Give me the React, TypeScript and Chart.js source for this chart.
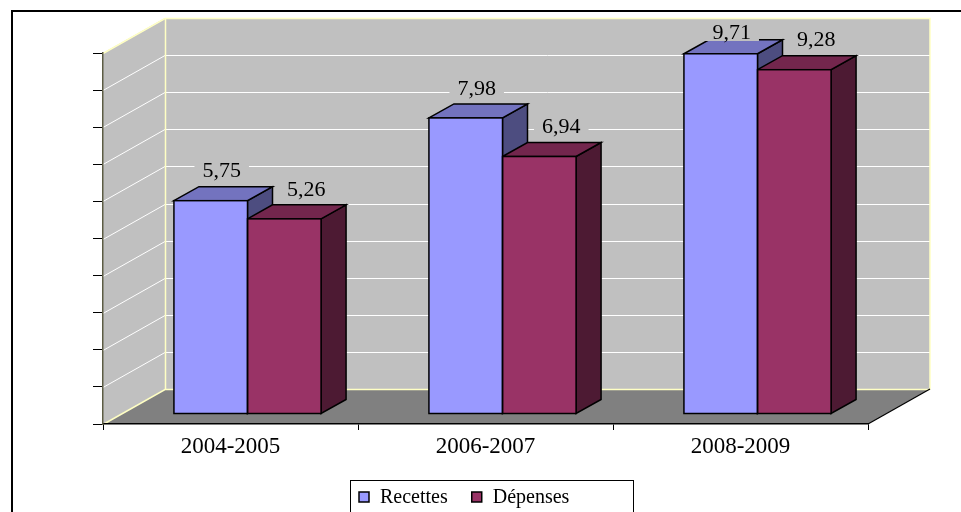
import React, { useEffect, useRef } from 'react';
import { Chart, registerables } from 'chart.js';

Chart.register(...registerables);

const categories = ['2004-2005', '2006-2007', '2008-2009'];
const recettes = [5.75, 7.98, 9.71];
const depenses = [5.26, 6.94, 9.28];
const seriesNames = ['Recettes', 'Dépenses'];
const yMax = 10;
const yStep = 1;

const FRONT = ['#9999FF', '#993366'];
const TOP = ['#7373BF', '#73264D'];
const SIDE = ['#4D4D80', '#4D1A33'];
const WALL = '#C0C0C0';
const FLOOR = '#808080';
const EDGE = '#FFFFC4';
const SERIF = 'Liberation Serif, DejaVu Serif, serif';

const BOX_DX = 62;
const BOX_DY = 35;
const BAR_DX = 17;
const BAR_DY = 10;
const BD_DX = 25;
const BD_DY = 14;
const LABEL_SHIFT = [11, 22];
const LABEL_GAP = 30;

function barRect(el: any) {
  const p = el.getProps(['x', 'y', 'base', 'width'], true);
  return { l: p.x - p.width / 2, r: p.x + p.width / 2, t: Math.min(p.y, p.base), b: Math.max(p.y, p.base), x: p.x };
}

function poly(ctx: CanvasRenderingContext2D, pts: number[][], fill: string | null, stroke: string | null, lw = 1.5) {
  ctx.beginPath();
  ctx.moveTo(pts[0][0], pts[0][1]);
  for (let i = 1; i < pts.length; i++) ctx.lineTo(pts[i][0], pts[i][1]);
  ctx.closePath();
  if (fill) { ctx.fillStyle = fill; ctx.fill(); }
  if (stroke) { ctx.strokeStyle = stroke; ctx.lineWidth = lw; ctx.lineJoin = 'miter'; ctx.stroke(); }
}

function line(ctx: CanvasRenderingContext2D, pts: number[][], color: string, lw = 1) {
  ctx.beginPath();
  ctx.moveTo(pts[0][0], pts[0][1]);
  for (let i = 1; i < pts.length; i++) ctx.lineTo(pts[i][0], pts[i][1]);
  ctx.strokeStyle = color;
  ctx.lineWidth = lw;
  ctx.stroke();
}

const plugin3d = {
  id: 'threeD',
  beforeDraw(chart: any) {
    const { ctx, chartArea: ca } = chart;
    const y = chart.scales.y;
    const L = ca.left, R = ca.right, T = ca.top, B = ca.bottom;
    const dx = BOX_DX, dy = BOX_DY;
    ctx.save();
    ctx.fillStyle = WALL;
    ctx.fillRect(L + dx, T - dy, R - L, B - T);
    poly(ctx, [[L, B], [L, T], [L + dx, T - dy], [L + dx, B - dy]], WALL, null);
    poly(ctx, [[L, B], [L + dx, B - dy], [R + dx, B - dy], [R, B]], FLOOR, null);
    for (let v = yStep; v < yMax - 1e-9; v += yStep) {
      const py = Math.round(y.getPixelForValue(v)) + 0.5;
      line(ctx, [[L, py], [L + dx, py - dy], [R + dx, py - dy]], '#FFFFFF', 1);
    }
    const tp = Math.round(T) + 0.5;
    const bp = Math.round(B) + 0.5;
    line(ctx, [[L, tp], [L + dx, tp - dy], [R + dx, tp - dy], [R + dx, bp - dy]], EDGE, 1.5);
    line(ctx, [[L + dx + 0.5, tp - dy], [L + dx + 0.5, bp - dy]], EDGE, 1.5);
    line(ctx, [[L, bp], [L + dx, bp - dy], [R + dx, bp - dy]], EDGE, 1.5);
    line(ctx, [[R, B], [R + dx, B - dy]], '#000000', 1.2);
    ctx.restore();
  },
  beforeDatasetsDraw(chart: any) {
    const ctx = chart.ctx;
    ctx.save();
    ctx.translate(BAR_DX, -BAR_DY);
    chart.data.datasets.forEach((ds: any, i: number) => {
      const meta = chart.getDatasetMeta(i);
      meta.data.forEach((el: any) => {
        const r = barRect(el);
        poly(ctx, [[r.r, r.t], [r.r + BD_DX, r.t - BD_DY], [r.r + BD_DX, r.b - BD_DY], [r.r, r.b]], SIDE[i], '#000');
        poly(ctx, [[r.l, r.t], [r.l + BD_DX, r.t - BD_DY], [r.r + BD_DX, r.t - BD_DY], [r.r, r.t]], TOP[i], '#000');
      });
    });
  },
  afterDatasetsDraw(chart: any) {
    const ctx = chart.ctx;
    const ca = chart.chartArea;
    chart.data.datasets.forEach((ds: any, i: number) => {
      const meta = chart.getDatasetMeta(i);
      meta.data.forEach((el: any) => {
        const r = barRect(el);
        ctx.strokeStyle = '#000';
        ctx.lineWidth = 1.5;
        ctx.strokeRect(r.l, r.t, r.r - r.l, r.b - r.t);
      });
    });
    ctx.restore();
    ctx.save();
    ctx.font = '22px ' + SERIF;
    ctx.textAlign = 'center';
    ctx.textBaseline = 'middle';
    chart.data.datasets.forEach((ds: any, i: number) => {
      const meta = chart.getDatasetMeta(i);
      meta.data.forEach((el: any, j: number) => {
        const r = barRect(el);
        const txt = Number(ds.data[j]).toFixed(2).replace('.', ',');
        const cx = r.x + BAR_DX + LABEL_SHIFT[i];
        const cy = Math.max(r.t - BAR_DY - LABEL_GAP, ca.top - BOX_DY + 14);
        const w = ctx.measureText(txt).width;
        ctx.fillStyle = WALL;
        ctx.fillRect(cx - w / 2 - 8, cy - 9, w + 16, 18);
        ctx.fillStyle = '#000';
        ctx.fillText(txt, cx, cy + 1);
      });
    });
    ctx.restore();
  },
  afterDraw(chart: any) {
    const ctx = chart.ctx;
    ctx.save();
    const x0 = 350, y0 = 480;
    ctx.strokeStyle = '#000';
    ctx.lineWidth = 1;
    ctx.strokeRect(x0 + 0.5, y0 + 0.5, 283, 60);
    ctx.font = '20px ' + SERIF;
    ctx.textBaseline = 'alphabetic';
    ctx.textAlign = 'left';
    let x = x0 + 9;
    chart.data.datasets.forEach((ds: any, i: number) => {
      ctx.fillStyle = FRONT[i];
      ctx.fillRect(x, y0 + 12, 10, 10);
      ctx.lineWidth = 1.5;
      ctx.strokeStyle = '#000';
      ctx.strokeRect(x, y0 + 12, 10, 10);
      ctx.fillStyle = '#000';
      ctx.fillText(ds.label, x + 21, y0 + 23);
      x += 21 + ctx.measureText(ds.label).width + 24;
    });
    ctx.lineWidth = 2;
    ctx.strokeStyle = '#000';
    ctx.strokeRect(12, 11, 1000, 600);
    ctx.restore();
  },
};

export default function App() {
  const ref = useRef<HTMLCanvasElement | null>(null);
  useEffect(() => {
    if (!ref.current) return;
    const chart = new Chart(ref.current, {
      type: 'bar',
      data: {
        labels: categories,
        datasets: [
          { label: seriesNames[0], data: recettes, backgroundColor: FRONT[0], borderWidth: 0, clip: false as any },
          { label: seriesNames[1], data: depenses, backgroundColor: FRONT[1], borderWidth: 0, clip: false as any },
        ],
      },
      options: {
        animation: false,
        responsive: true,
        maintainAspectRatio: false,
        layout: { padding: { left: 93, right: 93, top: 53, bottom: 48 } },
        datasets: { bar: { categoryPercentage: 0.577, barPercentage: 1 } },
        plugins: { legend: { display: false }, tooltip: { enabled: false } },
        scales: {
          x: {
            grid: { offset: true, drawOnChartArea: false, drawTicks: true, tickLength: 6, color: '#000' },
            border: { display: true, color: '#000', width: 1.5 },
            ticks: { color: '#000', font: { family: SERIF, size: 23 }, padding: 3 },
            afterFit: (s: any) => { s.height = 40; },
          },
          y: {
            min: 0,
            max: yMax,
            grid: { drawOnChartArea: false, drawTicks: true, tickLength: 10, color: '#000' },
            border: { display: true, color: '#5C5C44', width: 1.5 },
            ticks: { display: false, stepSize: yStep },
            afterFit: (s: any) => { s.width = 10; },
          },
        },
      },
      plugins: [plugin3d],
    });
    return () => chart.destroy();
  }, []);
  return (
    <div style={{ position: 'absolute', left: 0, top: 0, width: 961, height: 512, background: '#fff' }}>
      <canvas ref={ref} />
    </div>
  );
}
